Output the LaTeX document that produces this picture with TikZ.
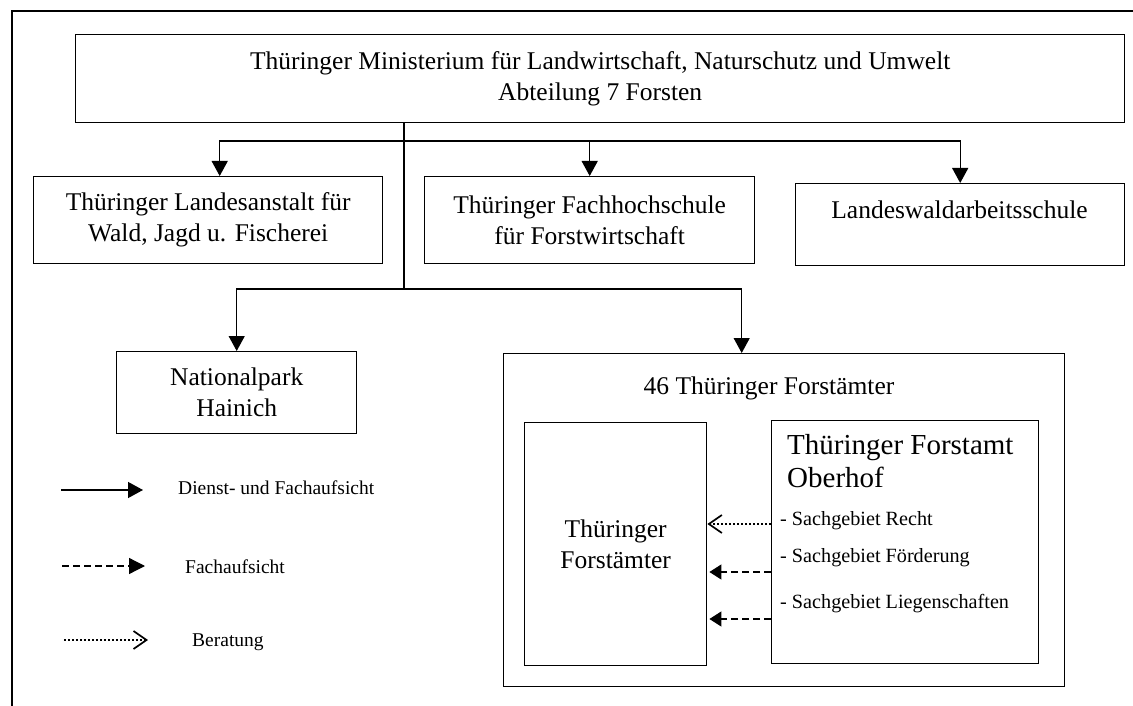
\documentclass[tikz,border=0pt]{standalone}
\usepackage{fontspec}
\setmainfont{Liberation Serif}
\usetikzlibrary{arrows.meta}
\begin{document}
\begin{tikzpicture}[x=1pt,y=-1pt,
  box/.style={draw, line width=1.4pt, inner sep=0pt, anchor=north west, align=center,
    font=\fontsize{25.5}{31}\selectfont},
  big/.style={inner sep=0pt, align=center, font=\fontsize{25.5}{31}\selectfont},
  small/.style={inner sep=0pt, anchor=west, font=\fontsize{19.5}{23}\selectfont},
  sach/.style={inner sep=0pt, anchor=west, font=\fontsize{20.2}{24}\selectfont},
  conn/.style={line width=1.3pt},
  arr/.style={conn, -{Triangle[length=15pt,width=16pt]}},
  dasharr/.style={conn, dash pattern=on 7pt off 4pt, -{Triangle[length=12pt,width=15pt]}},
  dotarr/.style={line width=2pt, dash pattern=on 2pt off 2pt,
    -{Straight Barb[length=13pt,width=18pt,line width=1.7pt]}}
]
\useasboundingbox (0,0) rectangle (1133,706);
% page frame
\draw[line width=1.5pt] (12,706) -- (12,11) -- (1133,11);

% boxes
\node[box, minimum width=1049pt, minimum height=88pt] (top) at (75,34)
  {Thüringer Ministerium für Landwirtschaft, Naturschutz und Umwelt\\Abteilung 7 Forsten};
\node[box, minimum width=349pt, minimum height=87pt] (lanst) at (33,176)
  {Thüringer Landesanstalt für\\Wald, Jagd u. Fischerei};
\node[box, minimum width=330pt, minimum height=87pt] (fhs) at (424,176)
  {Thüringer Fachhochschule\\für Forstwirtschaft};
\node[box, minimum width=329pt, minimum height=82pt] (lwas) at (795,183) {};
\node[big] (lwast) at (959.5,210) {Landeswaldarbeitsschule};
\node[box, minimum width=240pt, minimum height=82pt] (np) at (116,351)
  {Nationalpark\\Hainich};
\node[box, minimum width=561pt, minimum height=333pt] (fa46) at (503,353) {};
\node[big] (fa46t) at (769,388) {46 Thüringer Forstämter};
\node[box, minimum width=182pt, minimum height=243pt] (tfa) at (524,422)
  {Thüringer\\Forstämter};
\node[box, minimum width=267pt, minimum height=243pt] (ob) at (771,420) {};
\node[inner sep=0pt, anchor=west, align=left, font=\fontsize{29}{33}\selectfont] (obt) at (787,461)
  {Thüringer Forstamt\\Oberhof};
\node[sach] (s1) at (780,521) {- Sachgebiet Recht};
\node[sach] (s2) at (780,558) {- Sachgebiet Förderung};
\node[sach] (s3) at (780,604) {- Sachgebiet Liegenschaften};

% connectors
\coordinate (j1) at (404,141);
\coordinate (j2) at (404,289);
\draw[conn] (top.south -| j1) -- (j2);
\draw[arr] (j1) -| ([xshift=11.5pt]lanst.north);
\draw[arr] (j1) -| (lwas.north);
\draw[arr] (fhs.north |- j1) -- (fhs.north);
\draw[arr] (j2) -| (np.north);
\draw[arr] (j2) -| ([xshift=-42.5pt]fa46.north);

\coordinate (r1) at (771,524);
\coordinate (r2) at (771,572);
\coordinate (r3) at (771,619);
\draw[dotarr] (ob.west |- r1) -- (tfa.east |- r1);
\draw[dasharr] (ob.west |- r2) -- ([xshift=2pt]tfa.east |- r2);
\draw[dasharr] (ob.west |- r3) -- ([xshift=2pt]tfa.east |- r3);

% legend
\coordinate (la1) at (61,490);
\coordinate (lb1) at (143,490);
\coordinate (la2) at (62,566);
\coordinate (lb2) at (145,566);
\coordinate (la3) at (64,640);
\coordinate (lb3) at (148,640);
\draw[arr] (la1) -- (lb1);
\draw[dasharr, -{Triangle[length=16pt,width=16pt]}] (la2) -- (lb2);
\draw[dotarr] (la3) -- (lb3);
\node[small] (t1) at (178,488) {Dienst- und Fachaufsicht};
\node[small] (t2) at (185,567) {Fachaufsicht};
\node[small] (t3) at (192,642) {Beratung};
\end{tikzpicture}
\end{document}
